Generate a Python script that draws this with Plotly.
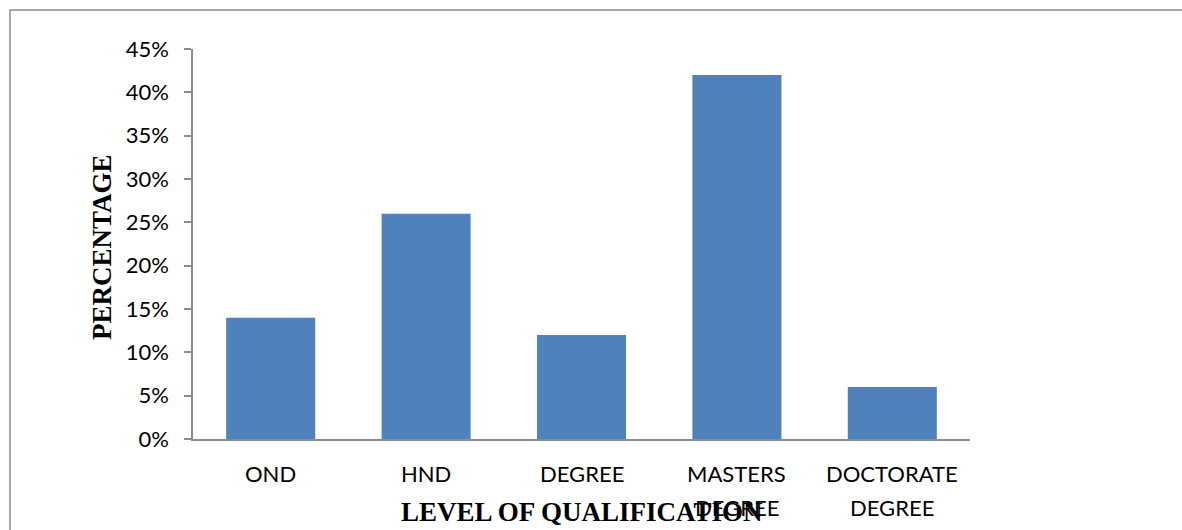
import plotly.graph_objects as go

# Distribution of respondents by level of qualification
categories = ["OND", "HND", "DEGREE", "MASTERS DEGREE", "DOCTORATE DEGREE"]
percentages = [0.14, 0.26, 0.12, 0.42, 0.06]
y_ticks = [0, 0.05, 0.10, 0.15, 0.20, 0.25, 0.30, 0.35, 0.40, 0.45]

W, H = 1182, 530
M_L, M_R, M_T, M_B = 193, 212, 49, 91
PW, PH = W - M_L - M_R, H - M_T - M_B


def px_x(px):
    return (px - M_L) / PW


def px_y(py):
    return (H - M_B - py) / PH


BAR_COLOR = "#4F81BD"
AXIS_COLOR = "#8C8C8C"
LABEL_FONT = "Lato, 'Open Sans', sans-serif"
TITLE_FONT = "'Liberation Serif', 'Times New Roman', serif"
LABEL_SIZE = 22
TITLE_SIZE = 27

fig = go.Figure(
    go.Bar(
        x=categories,
        y=percentages,
        marker=dict(color=BAR_COLOR, line=dict(width=0)),
        hoverinfo="x+y",
    )
)

fig.update_layout(
    width=W,
    height=H,
    margin=dict(l=M_L, r=M_R, t=M_T, b=M_B),
    paper_bgcolor="white",
    plot_bgcolor="white",
    bargap=0.427,
    showlegend=False,
    font=dict(family=LABEL_FONT, color="black", size=LABEL_SIZE),
)

fig.update_xaxes(
    type="category",
    showticklabels=False,
    ticks="",
    showgrid=False,
    showline=True,
    linecolor=AXIS_COLOR,
    linewidth=2,
    zeroline=False,
)

fig.update_yaxes(
    range=[0, 0.45],
    tickvals=y_ticks,
    tickformat=".0%",
    ticks="outside",
    ticklen=7,
    tickcolor=AXIS_COLOR,
    tickwidth=1.5,
    ticklabelstandoff=11,
    showgrid=False,
    showline=True,
    linecolor=AXIS_COLOR,
    linewidth=1.5,
    zeroline=False,
    tickfont=dict(family=LABEL_FONT, size=LABEL_SIZE, color="black"),
)

# Category labels, one line per word for multi-word names
line_rows = [474, 507]
for cat in categories:
    words = cat.split(" ")
    for i, word in enumerate(words):
        fig.add_annotation(
            x=cat,
            xref="x",
            y=px_y(line_rows[i]),
            yref="paper",
            text=word,
            showarrow=False,
            xanchor="center",
            yanchor="middle",
            font=dict(family=LABEL_FONT, size=LABEL_SIZE, color="black"),
        )

# Axis titles
fig.add_annotation(
    x=px_x(582),
    y=px_y(512),
    xref="paper",
    yref="paper",
    text="<b>LEVEL OF QUALIFICATION</b>",
    showarrow=False,
    xanchor="center",
    yanchor="middle",
    font=dict(family=TITLE_FONT, size=TITLE_SIZE, color="black"),
)
fig.add_annotation(
    x=px_x(102),
    y=px_y(247),
    xref="paper",
    yref="paper",
    text="<b>PERCENTAGE</b>",
    textangle=-90,
    showarrow=False,
    xanchor="center",
    yanchor="middle",
    font=dict(family=TITLE_FONT, size=TITLE_SIZE, color="black"),
)

# Chart-area frame
fig.add_shape(
    type="rect",
    xref="paper",
    yref="paper",
    x0=px_x(10),
    x1=px_x(1200),
    y0=px_y(560),
    y1=px_y(10),
    line=dict(color=AXIS_COLOR, width=1.5),
    fillcolor="rgba(0,0,0,0)",
    layer="below",
)

fig.write_html("out.html")
